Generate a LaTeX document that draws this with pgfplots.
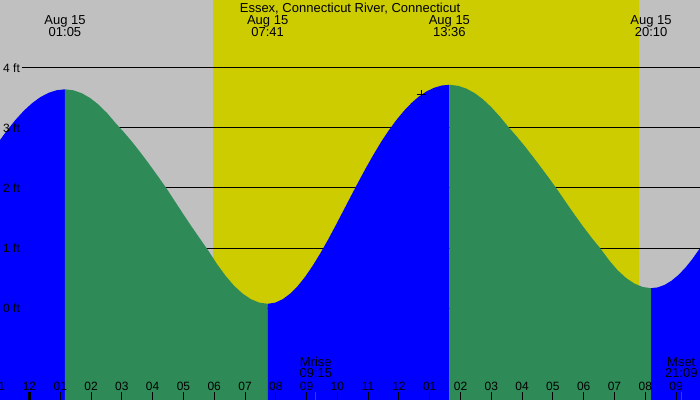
\documentclass[border=0pt]{standalone}
\usepackage{fontspec}
\setmainfont{Liberation Sans}
\usepackage{pgfplots}
\pgfplotsset{compat=1.18}
\definecolor{bggray}{RGB}{192,192,192}
\definecolor{dayyellow}{RGB}{204,204,0}
\definecolor{ebbgreen}{RGB}{46,139,87}
\definecolor{floodblue}{RGB}{0,0,255}
\definecolor{moonred}{RGB}{255,0,0}
\newcommand{\smallf}{\fontsize{12bp}{14bp}\selectfont}
\newcommand{\bigf}{\fontsize{13bp}{15bp}\selectfont}
\begin{document}
\begin{tikzpicture}
\useasboundingbox (0,0) rectangle (700bp,400bp);
\clip (0,0) rectangle (700bp,400bp);
\begin{axis}[
  at={(0,0)}, anchor=south west,
  scale only axis, width=700bp, height=400bp,
  xmin=-1.032, xmax=21.76, ymin=-1.5333, ymax=5.1333,
  axis background/.style={fill=bggray},
  axis line style={draw=none},
  axis on top,
  /pgf/number format/assume math mode=true,
  xtick={-0.072,0.931,1.933,2.936,3.938,4.941,5.943,6.946,7.948,8.950,9.953,10.955,11.958,12.960,13.963,14.965,15.968,16.970,17.973,18.975,19.978,20.980},
  xticklabels={12,01,02,03,04,05,06,07,08,09,10,11,12,01,02,03,04,05,06,07,08,09},
  xtick pos=bottom, tick align=inside,
  major tick length=8bp,
  xtick style={black, line width=1bp},
  xticklabel style={anchor=base, yshift=10bp, inner sep=0pt, font=\smallf, text=black},
  ytick={0,1,2,3,4}, yticklabels={0 ft,1 ft,2 ft,3 ft,4 ft},
  ytick style={draw=none},
  yticklabel style={anchor=west, inner sep=0pt, xshift=3bp, font=\smallf, text=black},
]
% daylight band
\addplot[draw=none, fill=dayyellow] coordinates {(5.913,-1.6) (19.78,-1.6) (19.78,5.2) (5.913,5.2)};
% reference lines
\addplot[black, line width=1bp] coordinates {(-0.326,4) (22,4)};
\addplot[black, line width=1bp] coordinates {(-0.326,3) (22,3)};
\addplot[black, line width=1bp] coordinates {(-0.326,2) (22,2)};
\addplot[black, line width=1bp] coordinates {(-0.326,1) (22,1)};
\addplot[black, line width=1bp] coordinates {(-0.326,0) (22,0)};
% rising (flood) before first high
\addplot[draw=none, fill=floodblue] coordinates {(-1.322,-1.6) (-1.322,2.582) (-1.055,2.784) (-0.787,2.971) (-0.520,3.140) (-0.253,3.289) (0.014,3.414) (0.281,3.514) (0.549,3.586) (0.816,3.630) (1.083,3.645) (1.083,-1.6)};
% falling (ebb)
\addplot[draw=none, fill=ebbgreen] coordinates {(1.083,-1.6) (1.083,3.645) (1.358,3.628) (1.633,3.579) (1.908,3.498) (2.183,3.387) (2.458,3.247) (2.733,3.081) (3.008,2.927) (3.283,2.760) (3.558,2.581) (3.833,2.392) (4.108,2.197) (4.383,1.998) (4.658,1.782) (4.933,1.567) (5.208,1.356) (5.483,1.152) (5.758,0.950) (6.033,0.733) (6.308,0.540) (6.583,0.374) (6.858,0.244) (7.133,0.148) (7.408,0.090) (7.683,0.070) (7.683,-1.6)};
% rising
\addplot[draw=none, fill=floodblue] coordinates {(7.683,-1.6) (7.683,0.070) (7.930,0.089) (8.176,0.147) (8.423,0.242) (8.669,0.370) (8.916,0.529) (9.162,0.715) (9.409,0.922) (9.655,1.144) (9.902,1.381) (10.148,1.623) (10.395,1.866) (10.642,2.107) (10.888,2.340) (11.135,2.562) (11.381,2.771) (11.628,2.961) (11.874,3.133) (12.121,3.286) (12.367,3.418) (12.614,3.527) (12.860,3.611) (13.107,3.671) (13.353,3.708) (13.600,3.720) (13.600,-1.6)};
% falling
\addplot[draw=none, fill=ebbgreen] coordinates {(13.600,-1.6) (13.600,3.720) (13.874,3.704) (14.147,3.658) (14.421,3.582) (14.695,3.477) (14.968,3.345) (15.242,3.190) (15.515,3.021) (15.789,2.861) (16.063,2.691) (16.336,2.511) (16.610,2.325) (16.884,2.136) (17.157,1.941) (17.431,1.735) (17.704,1.535) (17.978,1.341) (18.252,1.157) (18.525,0.987) (18.799,0.796) (19.073,0.632) (19.346,0.503) (19.620,0.408) (19.894,0.350) (20.167,0.330) (20.167,-1.6)};
% rising after last low
\addplot[draw=none, fill=floodblue] coordinates {(20.167,-1.6) (20.167,0.330) (20.389,0.344) (20.611,0.386) (20.833,0.455) (21.055,0.549) (21.277,0.668) (21.500,0.809) (21.722,0.970) (21.944,1.148) (21.944,-1.6)};
% midnight tick and moon ticks
\addplot[black, line width=3bp] coordinates {(-0.072,-1.6) (-0.072,-1.4)};
\addplot[moonred, line width=1bp] coordinates {(9.25,-1.6) (9.25,-1.4)};
\addplot[moonred, line width=1bp] coordinates {(21.15,-1.6) (21.15,-1.4)};
% current time mark
\addplot[only marks, mark=+, mark size=4.5bp, black, line width=1bp] coordinates {(12.68,3.55)};
% texts
\node[anchor=base, inner sep=0pt, font=\smallf] at (axis cs:-1.074,-1.3667) {11};
\node[anchor=base, inner sep=0pt, font=\bigf] at (axis cs:10.365,4.9333) {Essex, Connecticut River, Connecticut};
\node[anchor=base, inner sep=0pt, font=\bigf] at (axis cs:1.083,4.7333) {Aug 15};
\node[anchor=base, inner sep=0pt, font=\bigf] at (axis cs:1.083,4.5333) {01:05};
\node[anchor=base, inner sep=0pt, font=\bigf] at (axis cs:7.683,4.7333) {Aug 15};
\node[anchor=base, inner sep=0pt, font=\bigf] at (axis cs:7.683,4.5333) {07:41};
\node[anchor=base, inner sep=0pt, font=\bigf] at (axis cs:13.6,4.7333) {Aug 15};
\node[anchor=base, inner sep=0pt, font=\bigf] at (axis cs:13.6,4.5333) {13:36};
\node[anchor=base, inner sep=0pt, font=\bigf] at (axis cs:20.167,4.7333) {Aug 15};
\node[anchor=base, inner sep=0pt, font=\bigf] at (axis cs:20.167,4.5333) {20:10};
\node[anchor=base, inner sep=0pt, font=\bigf] at (axis cs:9.25,-0.978) {Mrise};
\node[anchor=base, inner sep=0pt, font=\bigf] at (axis cs:9.25,-1.162) {09:15};
\node[anchor=base, inner sep=0pt, font=\bigf] at (axis cs:21.15,-0.978) {Mset};
\node[anchor=base, inner sep=0pt, font=\bigf] at (axis cs:21.15,-1.162) {21:09};
\end{axis}
\end{tikzpicture}
\end{document}
